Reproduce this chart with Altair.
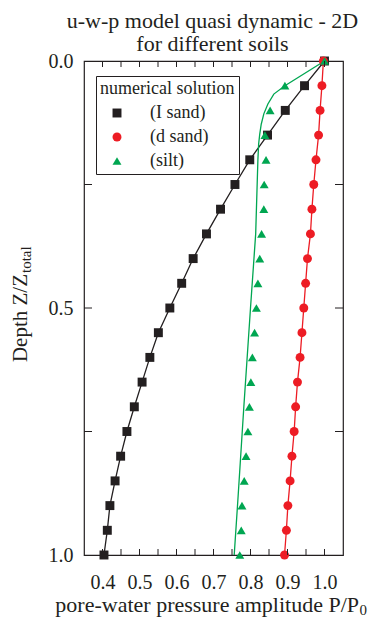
import altair as alt
import pandas as pd

# ---- data ----
depth = [0.00, 0.05, 0.10, 0.15, 0.20, 0.25, 0.30, 0.35, 0.40, 0.45, 0.50,
         0.55, 0.60, 0.65, 0.70, 0.75, 0.80, 0.85, 0.90, 0.95, 1.00]
l_sand = [1.000, 0.946, 0.894, 0.846, 0.798, 0.758, 0.719, 0.681, 0.645, 0.614, 0.582,
          0.551, 0.528, 0.507, 0.486, 0.466, 0.449, 0.434, 0.420, 0.413, 0.404]
d_sand = [0.997, 0.993, 0.988, 0.984, 0.977, 0.971, 0.966, 0.962, 0.954, 0.949, 0.944,
          0.939, 0.934, 0.927, 0.922, 0.918, 0.912, 0.907, 0.901, 0.897, 0.892]
silt = [1.000, 0.893, 0.853, 0.839, 0.842, 0.837, 0.836, 0.830, 0.825, 0.820, 0.816,
        0.811, 0.805, 0.801, 0.797, 0.793, 0.788, 0.783, 0.777, 0.775, 0.771]
silt_line_depth = [0.0, 0.05, 0.067, 0.087, 0.107, 0.128, 0.148, 0.168, 0.2, 0.35,
                   0.5, 0.7, 0.887, 1.0]
silt_line_p = [1.0, 0.893, 0.863, 0.847, 0.836, 0.829, 0.825, 0.822, 0.820, 0.814,
               0.800, 0.782, 0.766, 0.756]

soils = ["(I sand)", "(d sand)", "(silt)"]
colors = ["#231f20", "#ed1c24", "#00a651"]
shapes = ["square", "circle", "triangle-up"]

x_ticks = [0.40, 0.45, 0.50, 0.55, 0.60, 0.65, 0.70, 0.75, 0.80, 0.85, 0.90, 0.95, 1.00]
y_ticks = [0.25, 0.50, 0.75]
x_labels = [0.4, 0.5, 0.6, 0.7, 0.8, 0.9, 1.0]
y_labels = [0.0, 0.5, 1.0]

title_lines = ["u-w-p model quasi dynamic - 2D", "for different soils"]
x_title = "pore-water pressure amplitude P/P"
x_title_sub = "0"
y_title = "Depth Z/Z"
y_title_sub = "total"

FONT = "Liberation Serif"
W, H = 259, 494

# ---- tables ----
pts = pd.concat([
    pd.DataFrame({"x": l_sand, "y": depth, "soil": soils[0]}),
    pd.DataFrame({"x": d_sand, "y": depth, "soil": soils[1]}),
    pd.DataFrame({"x": silt, "y": depth, "soil": soils[2]}),
], ignore_index=True)

X = alt.X("x:Q", scale=alt.Scale(domain=[0.35, 1.05], nice=False, zero=False),
          axis=alt.Axis(values=x_labels, format=".1f", title=None, ticks=False, tickSize=0,
                        domain=False, grid=False, labelPadding=17, labelFont=FONT,
                        labelFontSize=20, labelColor="#231f20"))
Y = alt.Y("y:Q", scale=alt.Scale(domain=[0, 1], reverse=True, nice=False, zero=False),
          axis=alt.Axis(values=y_labels, format=".1f", title=None, ticks=False, tickSize=0,
                        domain=False, grid=False, labelPadding=11, labelFont=FONT,
                        labelFontSize=20, labelColor="#231f20"))

layers = []
# lines
for s, c, xs, ys in [(soils[0], colors[0], l_sand, depth),
                     (soils[1], colors[1], d_sand, depth),
                     (soils[2], colors[2], silt_line_p, silt_line_depth)]:
    df = pd.DataFrame({"x": xs, "y": ys})
    layers.append(alt.Chart(df).mark_line(color=c, strokeWidth=1.3).encode(
        x=X, y=Y, order=alt.Order("y:Q")))

# points
layers.append(alt.Chart(pts).mark_point(filled=True, size=80, opacity=1).encode(
    x=X, y=Y,
    color=alt.Color("soil:N", scale=alt.Scale(domain=soils, range=colors),
                    legend=alt.Legend(title="numerical solution")),
    shape=alt.Shape("soil:N", scale=alt.Scale(domain=soils, range=shapes),
                    legend=alt.Legend(title="numerical solution")),
))

# inward ticks
xt = pd.DataFrame({"x": x_ticks})
yt = pd.DataFrame({"y": y_ticks})
layers.append(alt.Chart(xt).mark_rule(color="#231f20").encode(x=X, y=alt.value(0), y2=alt.value(6)))
layers.append(alt.Chart(xt).mark_rule(color="#231f20").encode(x=X, y=alt.value(H), y2=alt.value(H - 6)))
layers.append(alt.Chart(yt).mark_rule(color="#231f20").encode(y=Y, x=alt.value(0), x2=alt.value(8)))
layers.append(alt.Chart(yt).mark_rule(color="#231f20").encode(y=Y, x=alt.value(W), x2=alt.value(W - 8)))


def txt(t, x, y, size, align="center", angle=0):
    kw = dict(font=FONT, fontSize=size, align=align, baseline="alphabetic", color="#231f20")
    if angle:
        kw["angle"] = angle
    return alt.Chart(pd.DataFrame({"t": [t]})).mark_text(**kw).encode(
        text="t:N", x=alt.value(x), y=alt.value(y))


layers.append(txt(title_lines[0], 128.5, -33, 22))
layers.append(txt(title_lines[1], 128.5, -10, 22))
layers.append(txt(x_title, 275, 551, 22, align="right"))
layers.append(txt(x_title_sub, 275.5, 553.5, 15, align="left"))
layers.append(txt(y_title, -57.5, 213, 21, align="right", angle=270))
layers.append(txt(y_title_sub, -53.5, 212, 15, align="left", angle=270))

chart = alt.layer(*layers).properties(
    width=W, height=H,
    autosize=alt.AutoSizeParams(type="none"),
    padding={"left": 76, "top": 53, "right": 25, "bottom": 63},
).configure_view(stroke="#231f20", strokeWidth=1.2).configure_legend(
    orient="none", legendX=12, legendY=15,
    strokeColor="#231f20", fillColor="white", padding=4,
    titleFont=FONT, titleFontSize=18, titleFontWeight="normal", titleColor="#231f20",
    labelFont=FONT, labelFontSize=18, labelColor="#231f20",
    symbolSize=80, symbolOffset=8, labelOffset=24, rowPadding=6, titlePadding=6,
    symbolStrokeWidth=0,
)

chart.save("out.html", embed_options={"renderer": "svg", "actions": False})
